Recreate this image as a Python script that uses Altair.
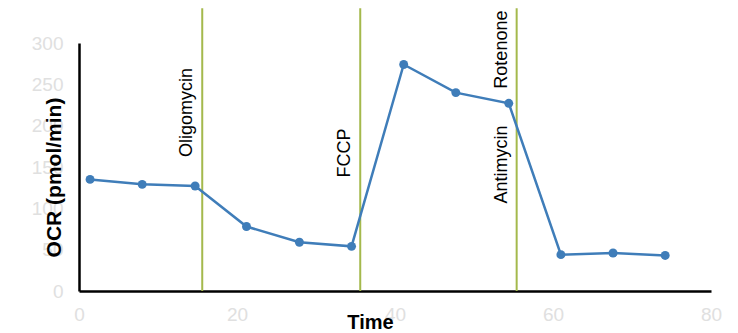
import altair as alt
import pandas as pd

# Oxygen consumption rate over time (Seahorse mito stress test)
time_min = [1.4, 8.0, 14.7, 21.2, 27.9, 34.5, 41.1, 47.7, 54.4, 61.0, 67.6, 74.2]
ocr = [135, 129, 127, 78, 59, 54, 274, 240, 227, 44, 46, 43]

# Compound injection times and labels
inject_time = [15.6, 35.6, 55.4, 55.4]
inject_label = ["Oligomycin", "FCCP", "Rotenone", "Antimycin"]
label_value = [216, 167, 292, 153]

line_time = [15.6, 35.6, 55.4]

df = pd.DataFrame({"time": time_min, "ocr": ocr})
rules_df = pd.DataFrame({"time": line_time, "y0": [0] * 3, "y1": [342] * 3})
labels_df = pd.DataFrame({"time": inject_time, "label": inject_label, "v": label_value})

LABEL_GRAY = "#e0e0e0"

x_scale = alt.Scale(domain=[0, 80], nice=False)
y_scale = alt.Scale(domain=[0, 300], nice=False)

x_axis = alt.Axis(
    values=[0, 20, 40, 60, 80],
    title="Time",
    titleFontSize=20,
    titleFontWeight="bold",
    titleColor="black",
    titleX=291,
    titleY=21,
    labelColor=LABEL_GRAY,
    labelFontSize=19,
    labelPadding=14,
    labelFlush=False,
    labelOverlap=False,
    ticks=False,
    grid=False,
    domainColor="black",
    domainWidth=2.5,
)
y_axis = alt.Axis(
    values=[0, 50, 100, 150, 200, 250, 300],
    title="OCR (pmol/min)",
    titleFontSize=21,
    titleFontWeight="bold",
    titleColor="black",
    titleY=134,
    titlePadding=0,
    titleX=-15,
    labelColor=LABEL_GRAY,
    labelFontSize=19,
    labelPadding=16,
    labelFlush=False,
    labelOverlap=False,
    ticks=False,
    grid=False,
    domainColor="black",
    domainWidth=2.5,
)

rules = alt.Chart(rules_df).mark_rule(color="#a4b94c", strokeWidth=2).encode(
    x=alt.X("time:Q", scale=x_scale, axis=x_axis),
    y=alt.Y("y0:Q", scale=y_scale, axis=y_axis),
    y2="y1:Q",
)

line = alt.Chart(df).mark_line(
    color="#3f7db9", strokeWidth=2.5,
    point=alt.OverlayMarkDef(color="#3f7db9", size=80, filled=True, opacity=1),
).encode(
    x=alt.X("time:Q", scale=x_scale),
    y=alt.Y("ocr:Q", scale=y_scale),
)

labels = alt.Chart(labels_df).mark_text(
    angle=270, fontSize=18, font="Liberation Sans", color="black",
    align="center", baseline="middle", dy=-15,
).encode(
    x=alt.X("time:Q", scale=x_scale),
    y=alt.Y("v:Q", scale=y_scale),
    text="label:N",
)

chart = (
    alt.layer(rules, line, labels)
    .properties(
        width=632,
        height=248,
        background="white",
        autosize=alt.AutoSizeParams(type="none"),
        padding={"left": 79, "top": 43, "right": 27, "bottom": 42},
    )
    .configure_view(strokeWidth=0, stroke="transparent")
    .configure_axis(labelFont="Liberation Sans", titleFont="Liberation Sans")
)

chart.save("out.html", embed_options={"renderer": "svg", "actions": False})
